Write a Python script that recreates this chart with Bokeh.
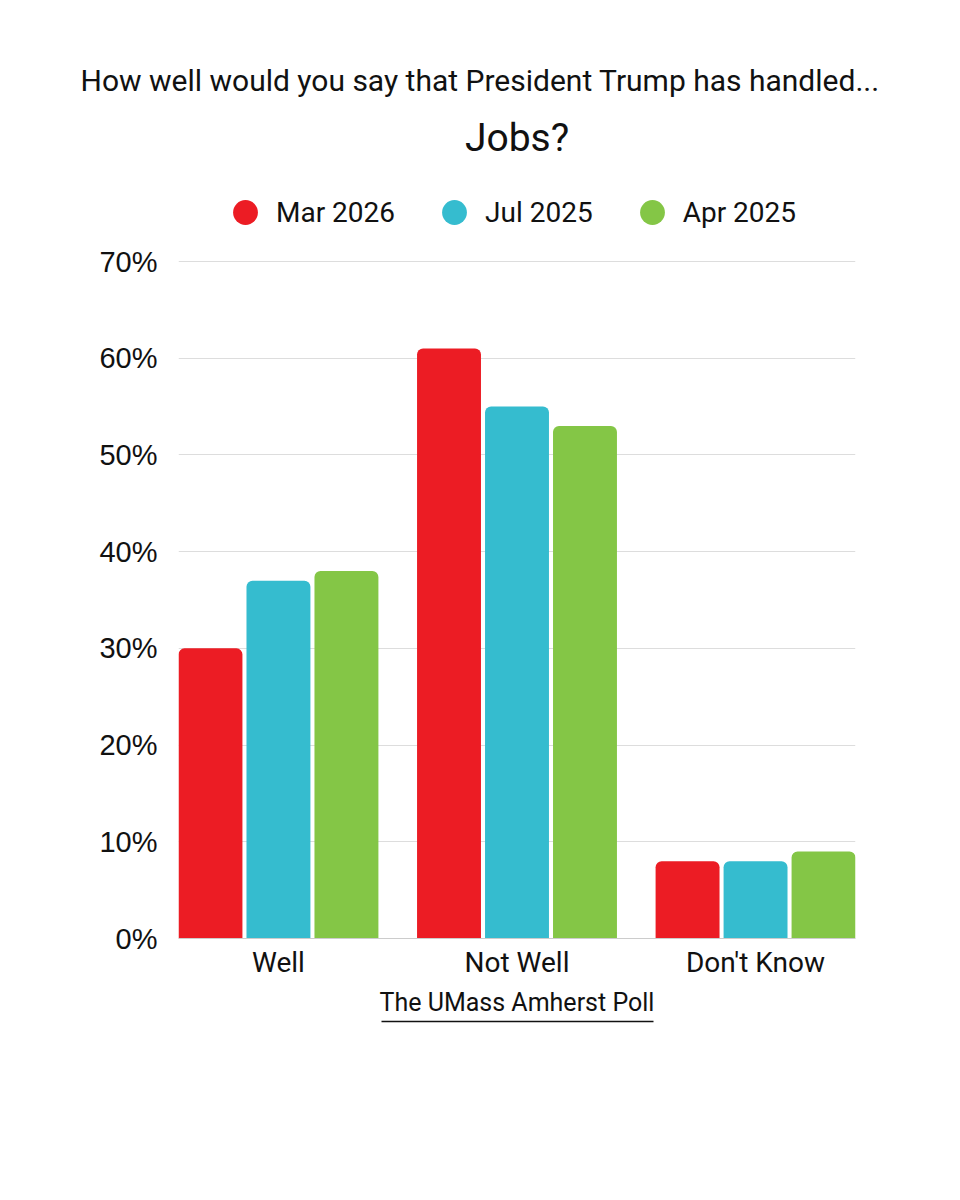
from bokeh.plotting import figure
from bokeh.models import (FactorRange, Legend, LegendItem, Title, CategoricalAxis,
                          FixedTicker, PrintfTickFormatter, ColumnDataSource, Range1d)
from bokeh.transform import dodge
from bokeh.embed import file_html
from bokeh.resources import INLINE

# datos
categories = ["Well", "Not Well", "Don't Know"]
series = ["Mar 2026", "Jul 2025", "Apr 2025"]
mar_2026 = [30, 61, 8]
jul_2025 = [37, 55, 8]
apr_2025 = [38, 53, 9]
colors = ["#EC1C24", "#35BCCF", "#84C646"]
y_ticks = [0, 10, 20, 30, 40, 50, 60, 70]

title_text = "How well would you say that President Trump has handled..."
subtitle_text = "Jobs?"
source_text = "The UMass Amherst Poll"

FONT = "Roboto"
TICK_FONT = "Liberation Sans"
INK = "#111111"

src = ColumnDataSource(data=dict(cat=categories, m=mar_2026, j=jul_2025, a=apr_2025))

# el area de dibujo llega hasta arriba para alojar la leyenda
p = figure(x_range=FactorRange(factors=categories, range_padding=-0.054),
           y_range=Range1d(0, 79.93),
           width=944, height=1184,
           min_border_left=178, min_border_right=89,
           min_border_top=165, min_border_bottom=246,
           output_backend="svg", toolbar_location=None,
           background_fill_color="white", border_fill_color="white")
p.outline_line_color = None

offsets = [-0.285, 0.0, 0.285]
cols = ["m", "j", "a"]
items = []
for s, col, off, c in zip(series, cols, offsets, colors):
    p.vbar(x=dodge("cat", off, range=p.x_range), top=col, width=0.268, bottom=0,
           source=src, fill_color=c, line_color=None, border_radius=(6, 6, 0, 0))
    # marcador invisible solo para la leyenda
    r = p.scatter(x=dodge("cat", off, range=p.x_range), y=col, source=src,
                  marker="circle", size=0, fill_color=c, line_color=None)
    items.append(LegendItem(label=s, renderers=[r]))

# ejes
p.yaxis.ticker = FixedTicker(ticks=y_ticks)
p.yaxis.formatter = PrintfTickFormatter(format="%d%%")
p.yaxis.axis_line_color = None
p.yaxis.major_tick_line_color = None
p.yaxis.minor_tick_line_color = None
p.yaxis.major_label_text_font = TICK_FONT
p.yaxis.major_label_text_font_size = "29px"
p.yaxis.major_label_text_color = INK
p.yaxis.major_label_standoff = 15

p.xaxis.axis_line_color = "#cccccc"
p.xaxis.major_tick_line_color = None
p.xaxis.minor_tick_line_color = None
p.xaxis.major_label_text_font = FONT
p.xaxis.major_label_text_font_size = "28px"
p.xaxis.major_label_text_color = INK
p.xaxis.major_label_standoff = 1

p.xgrid.grid_line_color = None
p.ygrid.grid_line_color = "#dddddd"
p.ygrid.grid_line_width = 1

# location = esquina inferior izquierda, medida desde abajo del area de dibujo
legend = Legend(items=items, orientation="horizontal", location=(36, 692),
                glyph_width=62, glyph_height=68, label_standoff=0, spacing=28,
                padding=0, margin=0, border_line_color=None, background_fill_alpha=0,
                label_text_font=FONT, label_text_font_size="28px", label_text_color=INK)
p.add_layout(legend, "center")

# titulos
p.add_layout(Title(text=subtitle_text, align="center", text_font=FONT,
                   text_font_size="39px", text_font_style="normal",
                   text_color=INK, standoff=10), "above")
p.add_layout(Title(text=title_text, align="left", offset=-98, text_font=FONT,
                   text_font_size="30px", text_font_style="normal",
                   text_color=INK, standoff=20), "above")

# fuente con subrayado (linea de un eje extra)
p.add_layout(Title(text=source_text, align="center", text_font=FONT,
                   text_font_size="25px", text_font_style="normal",
                   text_color=INK, standoff=9), "below")
p.extra_x_ranges = {"ul": FactorRange(factors=[" "], range_padding=0)}
underline = CategoricalAxis(x_range_name="ul", bounds=(203 / 677, 475 / 677),
                            major_label_text_font_size="0px", major_label_text_alpha=0,
                            major_tick_line_color=None, minor_tick_line_color=None,
                            axis_line_color=INK, axis_line_width=1.5)
p.add_layout(underline, "below")

open("out.html", "w").write(file_html(p, INLINE))
